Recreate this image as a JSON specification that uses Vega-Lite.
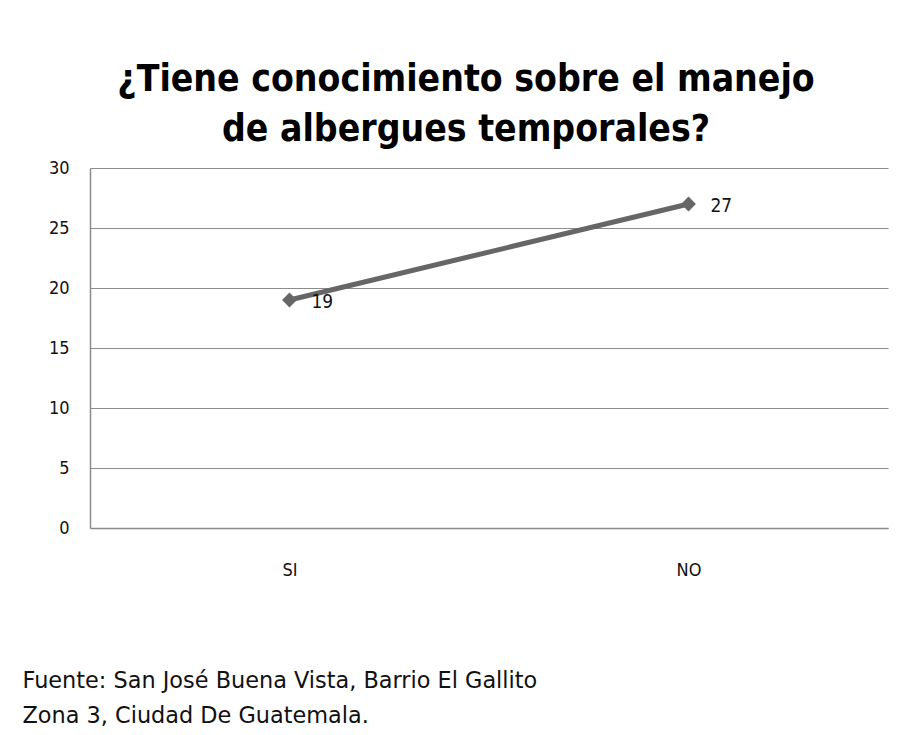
{
  "$schema": "https://vega.github.io/schema/vega-lite/v6.json",
  "autosize": "none",
  "width": 798,
  "height": 360,
  "padding": {"left": 90, "top": 168, "right": 15, "bottom": 207},
  "background": "white",
  "title": {
    "text": ["¿Tiene conocimiento sobre el manejo", "de albergues temporales?"],
    "font": "DejaVu Sans Condensed, sans-serif",
    "fontSize": 37,
    "fontWeight": "bold",
    "color": "black",
    "lineHeight": 50,
    "anchor": "middle",
    "dx": -23,
    "offset": 10
  },
  "data": {
    "values": [
      {"respuesta": "SI", "cantidad": 19},
      {"respuesta": "NO", "cantidad": 27}
    ]
  },
  "encoding": {
    "x": {
      "field": "respuesta",
      "type": "nominal",
      "sort": ["SI", "NO"],
      "scale": {"type": "point", "padding": 0.5},
      "axis": {
        "title": ["Fuente: San José Buena Vista, Barrio El Gallito", "Zona 3, Ciudad De Guatemala."],
        "titleFont": "DejaVu Sans, sans-serif",
        "titleFontSize": 22.4,
        "titleFontWeight": "normal",
        "titleColor": "#111",
        "titleAnchor": "start",
        "titleAlign": "left",
        "titleLineHeight": 35,
        "titleX": -68,
        "titleY": 159,
        "titleBaseline": "alphabetic",
        "labelAngle": 0,
        "labelFont": "DejaVu Sans Condensed, DejaVu Sans, sans-serif",
        "labelFontSize": 18,
        "labelColor": "#111",
        "labelPadding": 33,
        "ticks": false,
        "domain": true,
        "domainColor": "#8c8c8c",
        "domainWidth": 1.5,
        "grid": false
      }
    },
    "y": {
      "field": "cantidad",
      "type": "quantitative",
      "scale": {"domain": [0, 30], "nice": false},
      "axis": {
        "title": null,
        "values": [0, 5, 10, 15, 20, 25, 30],
        "labelFont": "DejaVu Sans Condensed, DejaVu Sans, sans-serif",
        "labelFontSize": 18,
        "labelColor": "#111",
        "labelPadding": 21,
        "ticks": false,
        "domain": true,
        "domainColor": "#8c8c8c",
        "domainWidth": 1.5,
        "grid": true,
        "gridColor": "#8c8c8c",
        "gridWidth": 1.2
      }
    }
  },
  "layer": [
    {"mark": {"type": "line", "color": "#666666", "strokeWidth": 5}},
    {"mark": {"type": "point", "shape": "diamond", "filled": true, "color": "#666666", "size": 220, "opacity": 1}},
    {
      "mark": {"type": "text", "align": "left", "baseline": "middle", "dx": 22, "dy": 2, "font": "DejaVu Sans Condensed, DejaVu Sans, sans-serif", "fontSize": 19, "color": "#111"},
      "encoding": {"text": {"field": "cantidad", "type": "quantitative"}}
    }
  ],
  "config": {
    "view": {"stroke": null}
  }
}
